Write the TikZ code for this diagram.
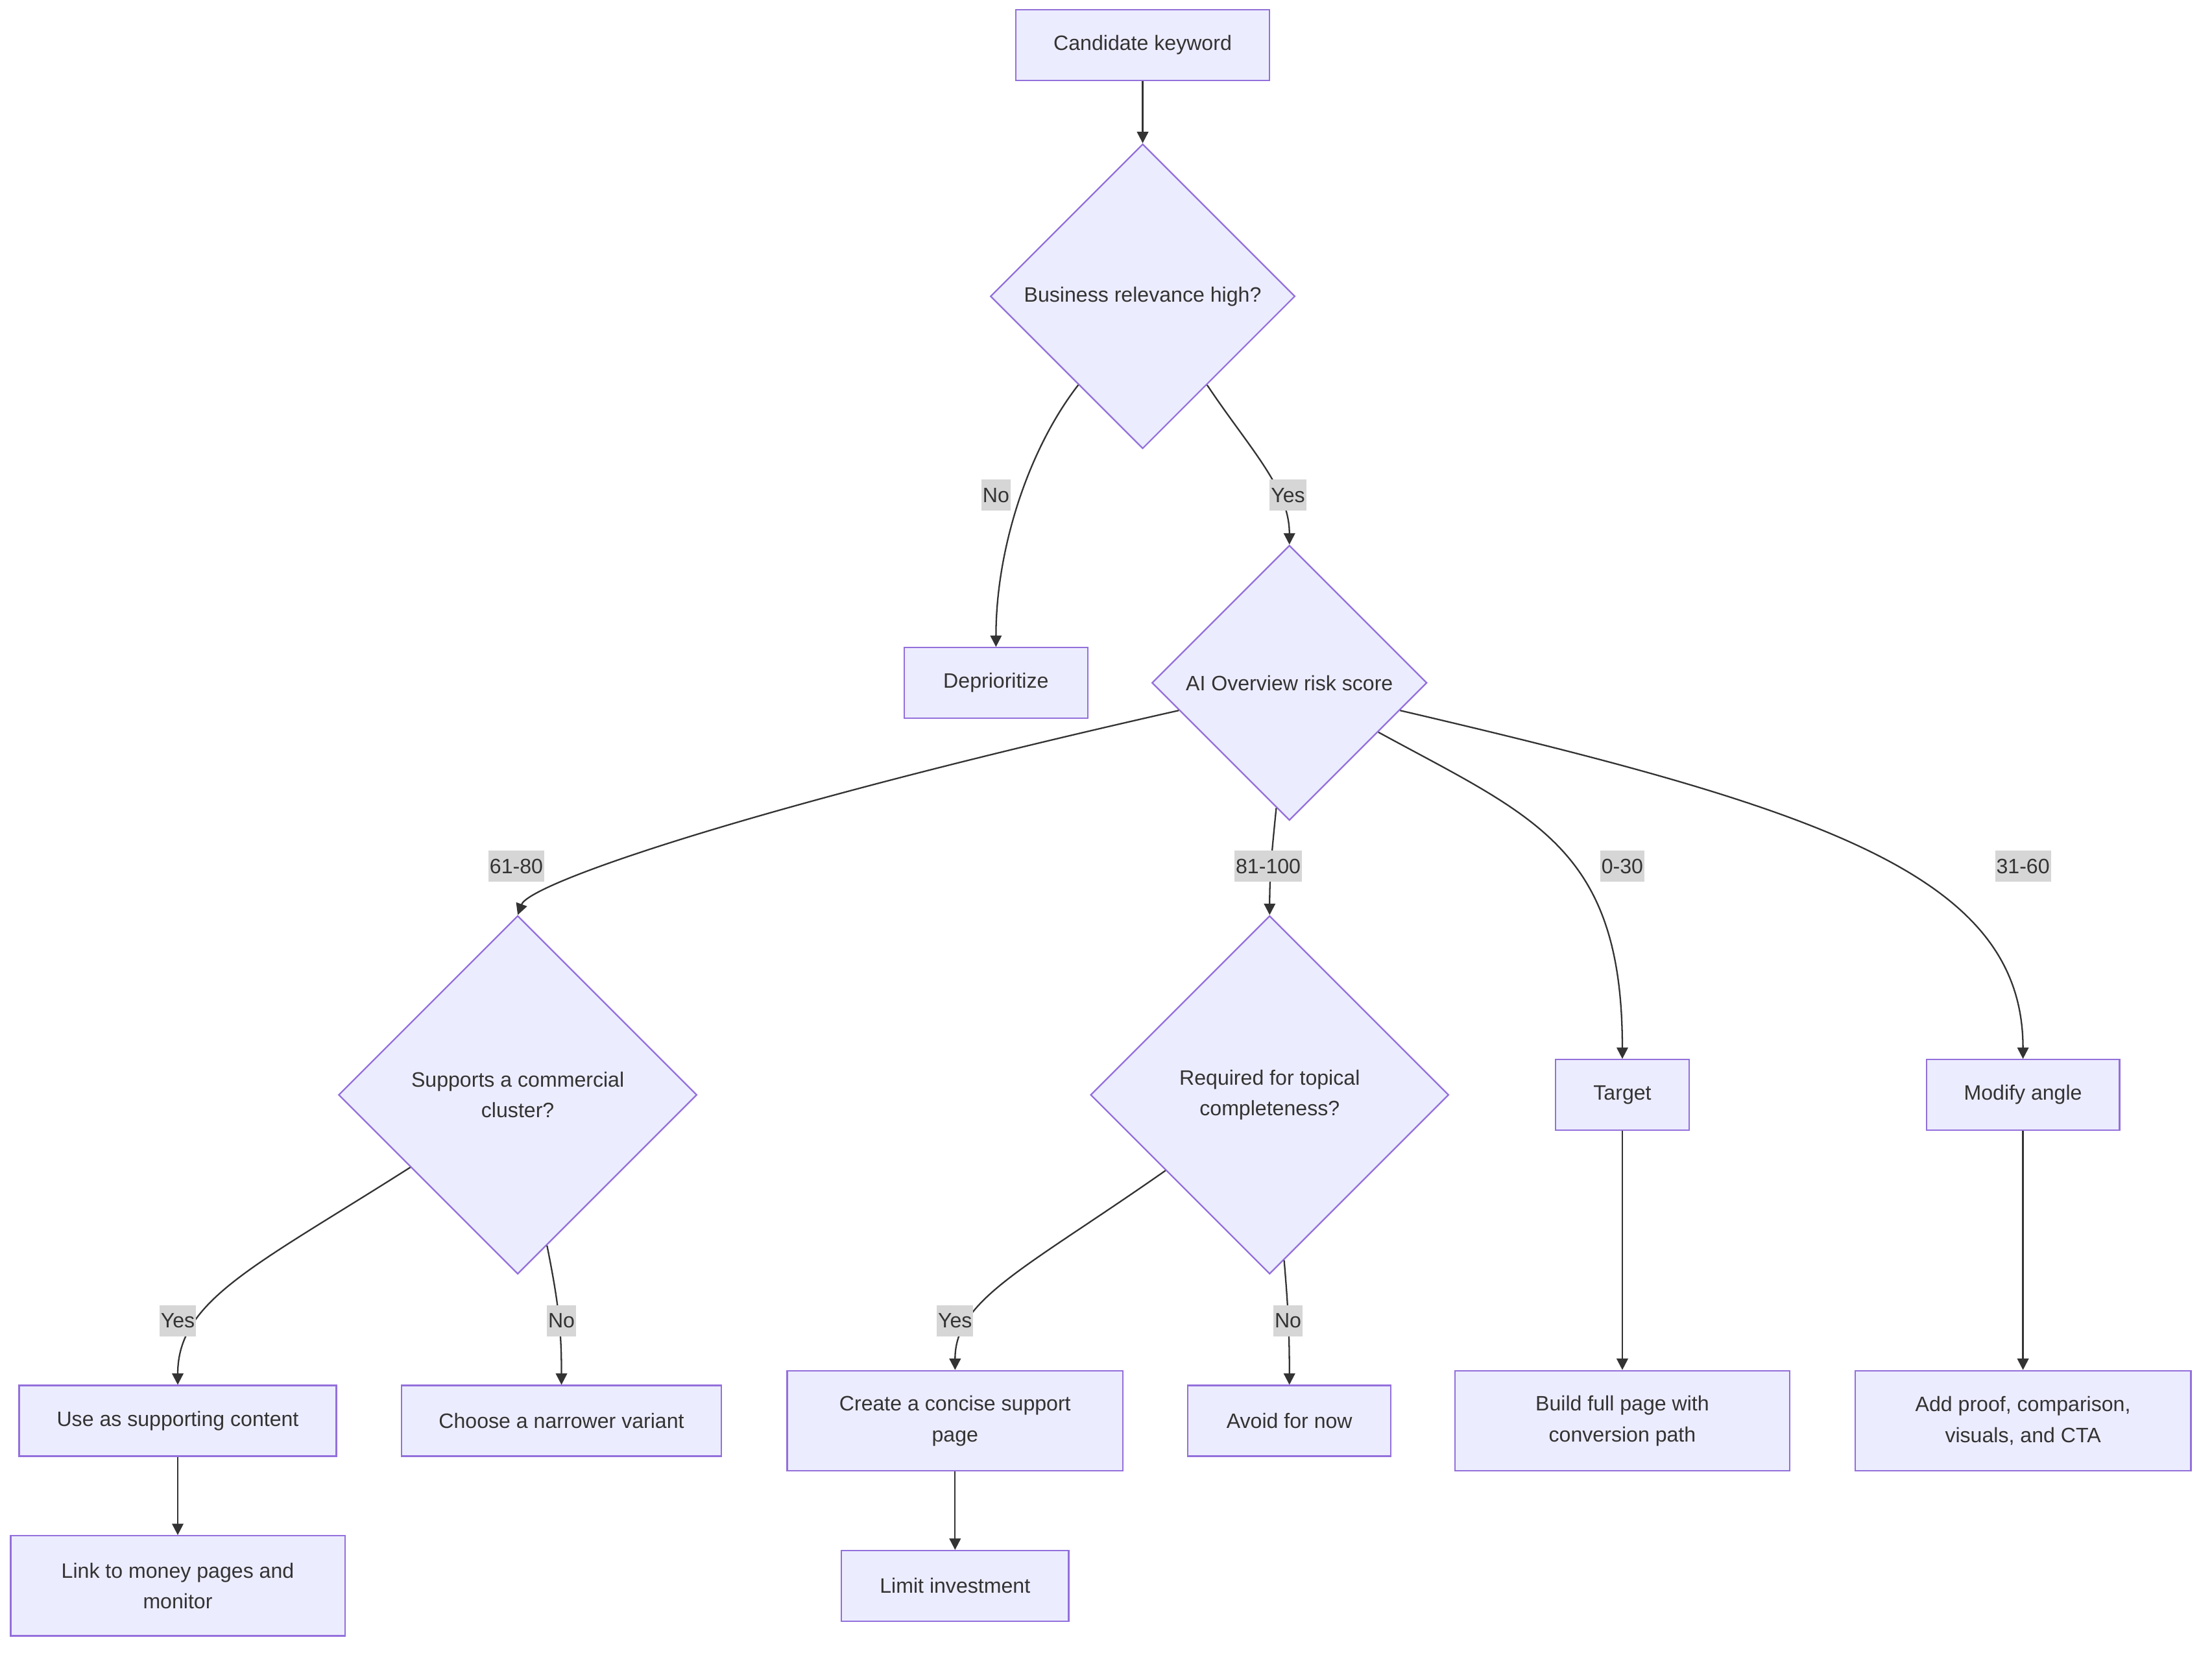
\documentclass[tikz,border=0pt]{standalone}
\usepackage{fontspec}
\setmainfont{Liberation Sans}
\usepackage{tikz}
\usetikzlibrary{shapes.geometric, arrows.meta, positioning}
\definecolor{boxfill}{HTML}{ECECFF}
\definecolor{boxline}{HTML}{9370DB}
\definecolor{ink}{HTML}{333333}
\definecolor{lblfill}{HTML}{D6D6D6}

\begin{document}
\begin{tikzpicture}[
  x=0.02cm, y=-0.02cm,
  box/.style={rectangle, draw=boxline, fill=boxfill, text=ink, line width=0.6pt, font=\fontsize{8.4}{12.5}\selectfont, align=center, minimum height=1cm, inner sep=2pt},
  dec/.style={diamond, aspect=1, draw=boxline, fill=boxfill, text=ink, line width=0.6pt, font=\fontsize{8.4}{12.5}\selectfont, align=center, inner sep=1pt},
  arr/.style={draw=ink, line width=0.6pt, -{Triangle[length=4.6pt, width=4.6pt]}},
  lbl/.style={fill=lblfill, text=ink, font=\fontsize{8.4}{12.5}\selectfont, inner xsep=0.5pt, inner ysep=0pt, minimum height=0.44cm},
]
\useasboundingbox (0,0) rectangle (1568,1173);

\node[box, minimum width=3.6cm] (cand) at (810,32) {Candidate keyword};
\node[dec, minimum width=4.32cm, minimum height=4.32cm] (biz) at (810,210) {Business relevance high?};
\node[box, minimum width=2.6cm] (depri) at (706,484) {Deprioritize};
\node[dec, minimum width=3.9cm, minimum height=3.9cm] (ai) at (914,484) {AI Overview risk score};

\node[dec, minimum width=5.08cm, minimum height=5.08cm] (sup) at (367,776) {Supports a commercial\\cluster?};
\node[dec, minimum width=5.08cm, minimum height=5.08cm] (req) at (900,776) {Required for topical\\completeness?};
\node[box, minimum width=1.9cm] (target) at (1150,776) {Target};
\node[box, minimum width=2.74cm] (modify) at (1434,776) {Modify angle};

\node[box, minimum width=4.5cm] (use) at (126,1007) {Use as supporting content};
\node[box, minimum width=4.54cm] (choose) at (398,1007) {Choose a narrower variant};
\node[box, minimum width=4.76cm, minimum height=1.42cm] (create) at (677,1007) {Create a concise support\\page};
\node[box, minimum width=2.88cm] (avoid) at (914,1007) {Avoid for now};
\node[box, minimum width=4.74cm, minimum height=1.42cm] (build) at (1150,1007) {Build full page with\\conversion path};
\node[box, minimum width=4.76cm, minimum height=1.42cm] (addp) at (1434,1007) {Add proof, comparison,\\visuals, and CTA};

\node[box, minimum width=4.74cm, minimum height=1.42cm] (link) at (126,1124) {Link to money pages and\\monitor};
\node[box, minimum width=3.22cm] (limit) at (677,1124) {Limit investment};

% edges
\draw[arr] (cand) -- (biz);
\draw[arr] (biz.234) .. controls +(-35,45) and +(0,-70) .. (depri.north);
\draw[arr] (biz.306) .. controls +(30,45) and +(0,-40) .. (ai.north);
\draw[arr] (ai.194) .. controls +(-310,70) and +(8,-22) .. (sup.north);
\draw[arr] (ai.264) .. controls +(-3,30) and +(0,-30) .. (req.north);
\draw[arr] (ai.331) .. controls +(110,60) and +(0,-150) .. (target.north);
\draw[arr] (ai.346) .. controls +(300,70) and +(0,-130) .. (modify.north);
\draw[arr] (sup.214) .. controls +(-110,70) and +(0,-60) .. (use.north);
\draw[arr] (sup.281) .. controls +(8,40) and +(0,-40) .. (choose.north);
\draw[arr] (req.216) .. controls +(-100,70) and +(0,-50) .. (create.north);
\draw[arr] (req.275) .. controls +(3,35) and +(0,-35) .. (avoid.north);
\draw[arr] (use) -- (link);
\draw[arr] (create) -- (limit);
\draw[arr] (target) -- (build);
\draw[arr] (modify) -- (addp);

% edge labels
\node[lbl] (lno1) at (706,351) {No};
\node[lbl] (lyes1) at (913,351) {Yes};
\node[lbl] (l6180) at (366,614) {61-80};
\node[lbl] (l81100) at (899,614) {81-100};
\node[lbl] (l030) at (1150,614) {0-30};
\node[lbl] (l3160) at (1434,614) {31-60};
\node[lbl] (lyes2) at (126,936) {Yes};
\node[lbl] (lno2) at (398,936) {No};
\node[lbl] (lyes3) at (677,936) {Yes};
\node[lbl] (lno3) at (913,936) {No};
\end{tikzpicture}
\end{document}
